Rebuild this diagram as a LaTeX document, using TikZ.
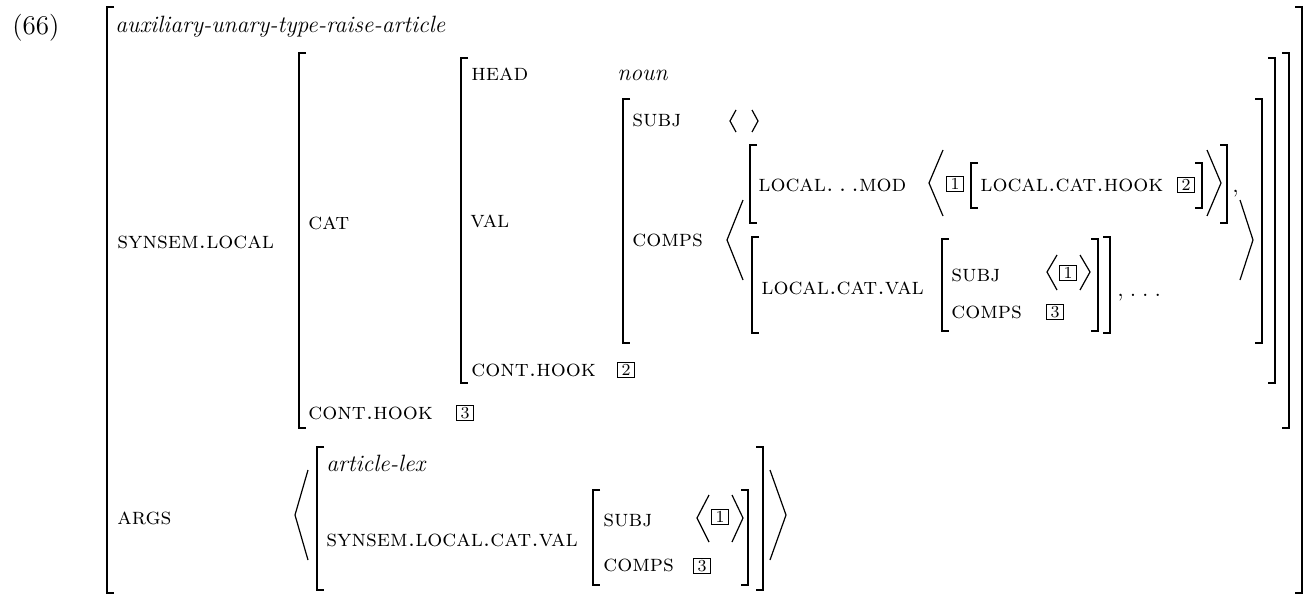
\documentclass[tikz,border=0pt]{standalone}
\newcommand\mainsize{\fontsize{11.8}{14}\selectfont}
\newcommand\tagsize{\fontsize{8.4}{9}\selectfont}
\tikzset{
  brk/.style={line width=0.9pt, line join=miter},
  ang/.style={line width=0.6pt, line join=miter},
  lab/.style={anchor=base west, inner sep=0pt, font=\mainsize\scshape},
  ital/.style={anchor=base west, inner sep=0pt, font=\mainsize\itshape},
  plain/.style={anchor=base west, inner sep=0pt, font=\mainsize},
  tagbox/.style={draw, line width=0.45pt, minimum width=8.2pt, minimum height=7.8pt, inner sep=0pt, font=\tagsize},
}
\newcommand\avmlb[3]{\draw[brk] ({#1+7},#2) -- (#1,#2) -- (#1,#3) -- ({#1+7},#3);}
\newcommand\avmrb[3]{\draw[brk] ({#1-7},#2) -- (#1,#2) -- (#1,#3) -- ({#1-7},#3);}
\begin{document}
\begin{tikzpicture}[x=0.5pt,y=-0.5pt]
\useasboundingbox (0,0) rectangle (1306,595);
% brackets
\avmlb{107}{7}{593} \avmrb{1302}{7}{593}
\avmlb{299}{53}{428} \avmrb{1289}{53}{428}
\avmlb{461}{58}{383} \avmrb{1275}{58}{383}
\avmlb{623}{99}{343} \avmrb{1262}{99}{343}
% comps list angles
\draw[ang] (743,200) -- (727,240) -- (743,280);
\draw[ang] (1240,200) -- (1253,240) -- (1240,280);
% item 1
\avmlb{750}{145}{223} \avmrb{1227}{145}{223}
\draw[ang] (943,150) -- (929,183) -- (943,216);
\avmlb{971}{163}{208} \avmrb{1202}{163}{208}
\draw[ang] (1207,150) -- (1221,183) -- (1207,216);
% item 2
\avmlb{752}{237}{333} \avmrb{1110}{237}{333}
\avmlb{942}{239}{331} \avmrb{1098}{239}{331}
\draw[ang] (1057,255) -- (1047,272) -- (1057,290);
\draw[ang] (1080,255) -- (1090,272) -- (1080,290);
% empty subj list
\draw[ang] (736,110) -- (730,121) -- (736,132);
\draw[ang] (752,110) -- (758,121) -- (752,132);
% args
\draw[ang] (308,470) -- (295,515) -- (308,560);
\draw[ang] (770,470) -- (786,515) -- (770,560);
\avmlb{317}{447}{590} \avmrb{763}{447}{590}
\avmlb{593}{490}{585} \avmrb{748}{490}{585}
\draw[ang] (709,495) -- (697,518) -- (709,542);
\draw[ang] (732,495) -- (743,518) -- (732,542);
% tags
\node[tagbox] (tA) at (465,413) {3};
\node[tagbox] (tB) at (626,370) {2};
\node[tagbox] (tC) at (955,184) {1};
\node[tagbox] (tD) at (1186,185) {2};
\node[tagbox] (tE) at (1068,273) {1};
\node[tagbox] (tF) at (1055,312) {3};
\node[tagbox] (tG) at (720,517) {1};
\node[tagbox] (tH) at (702,566) {3};
% texts
\node[anchor=base west, inner sep=0pt, font=\fontsize{13.5}{16}\selectfont] (num) at (12,34) {(66)};
\node[ital] (type) at (115,32) {auxiliary-unary-type-raise-article};
\node[lab] (synsem) at (117,248) {synsem.local};
\node[lab] (cat) at (308,229) {cat};
\node[lab] (conthookA) at (308,419) {cont.hook};
\node[lab] (head) at (471,80) {head};
\node[ital] (noun) at (617,80) {noun};
\node[lab] (val) at (470,227) {val};
\node[lab] (conthookB) at (471,376) {cont.hook};
\node[lab] (subjA) at (632,126) {subj};
\node[lab] (compsA) at (632,246) {comps};
\node[lab] (mod) at (758,191) {local.\hspace{2.6pt}.\hspace{2.6pt}.mod};
\node[lab] (cathook) at (980,191) {local.cat.hook};
\node[plain] (commaA) at (1232,192) {,};
\node[lab] (catval) at (761,294) {local.cat.val};
\node[lab] (subjB) at (951,281) {subj};
\node[lab] (compsB) at (951,318) {comps};
\node[plain] (dots) at (1117,296) {,\hspace{3pt}.\hspace{3pt}.\hspace{3pt}.};
\node[lab] (args) at (117,524) {args};
\node[ital] (artlex) at (326,471) {article-lex};
\node[lab] (sscv) at (326,546) {synsem.local.cat.val};
\node[lab] (subjC) at (603,526) {subj};
\node[lab] (compsC) at (603,571) {comps};
\end{tikzpicture}
\end{document}
